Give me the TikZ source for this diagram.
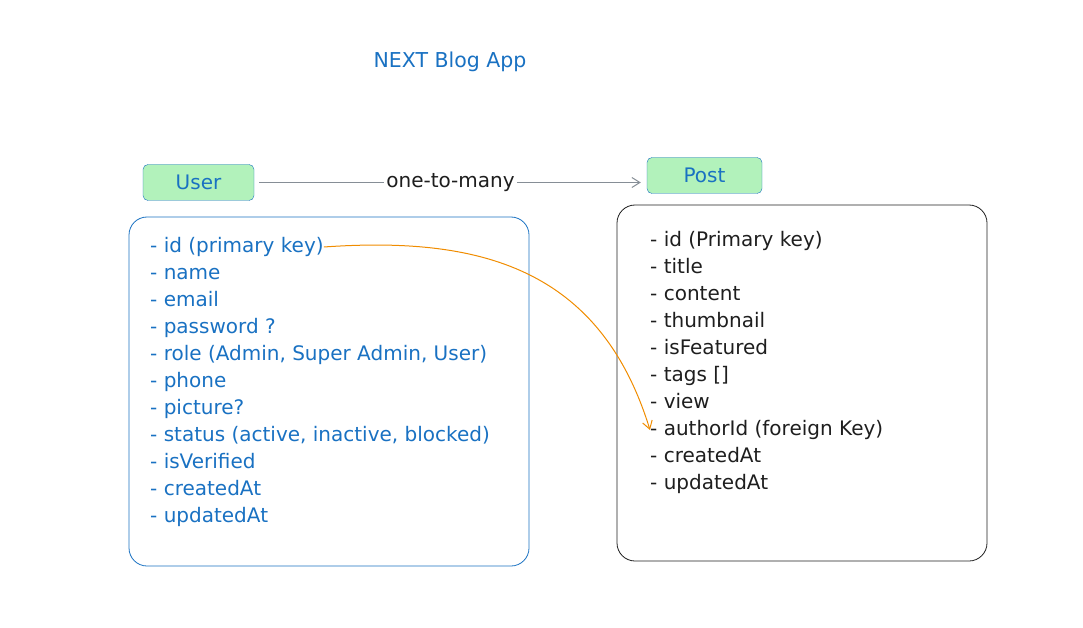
\documentclass[tikz,border=0pt]{standalone}
\usepackage{fontspec}
\setmainfont{DejaVu Sans}
\usetikzlibrary{positioning}
\usetikzlibrary{arrows.meta}
\definecolor{exblue}{HTML}{1971C2}
\definecolor{exgreen}{HTML}{B2F2BB}
\definecolor{exgray}{HTML}{868E96}
\definecolor{exorange}{HTML}{F08C00}
\definecolor{exblack}{HTML}{1E1E1E}
\tikzset{
  header/.style={draw=exblue, fill=exgreen, rounded corners=5pt,
    minimum height=36pt, text=exblue, font=\fontsize{20}{24}\selectfont},
  tablebox/.style={draw, rounded corners=18pt, line width=0.8pt},
  field/.style={anchor=west, inner sep=0pt, text height=15pt, text depth=4pt,
    font=\fontsize{20}{24}\selectfont},
}

\begin{document}
\begin{tikzpicture}[x=1pt, y=-1pt]
\useasboundingbox (0,0) rectangle (1083,628);

% Title
\node[text=exblue, font=\fontsize{20.5}{24}\selectfont] (title) at (450,62) {NEXT Blog App};

% Entities
\node[header, minimum width=111pt] (user) at (198.5,182.5) {User};
\node[header, minimum width=115pt] (post) at (704.5,175.5) {Post};

% User table
\node[tablebox, draw=exblue, minimum width=400pt, minimum height=349pt] (userbox) at (329,391.5) {};
\foreach \t [count=\i] in {{- id (primary key)}, {- name}, {- email}, {- password ?},
    {- role (Admin, Super Admin, User)}, {- phone}, {- picture?},
    {- status (active, inactive, blocked)}, {- isVerified}, {- createdAt}, {- updatedAt}}
  \node[field, text=exblue] (u\i) at (150,{247+27*(\i-1)}) {\t};

% Post table
\node[tablebox, draw=exblack, minimum width=370pt, minimum height=356pt] (postbox) at (802,383) {};
\foreach \t [count=\i] in {{- id (Primary key)}, {- title}, {- content}, {- thumbnail},
    {- isFeatured}, {- tags []}, {- view}, {- authorId (foreign Key)},
    {- createdAt}, {- updatedAt}}
  \node[field, text=exblack] (p\i) at (650,{241+27*(\i-1)}) {\t};

% Relation
\draw[exgray, line width=1pt, shorten <=5pt, shorten >=6pt, -{Straight Barb[length=8pt, width=10pt]}] (user.east) -- (post.west |- user.east)
    node[midway, fill=white, text=exblack, inner sep=2pt, font=\fontsize{20}{24}\selectfont] (rel) {one-to-many};

% Foreign key link
\draw[exorange, line width=1pt, -{Straight Barb[length=8pt, width=10pt]}] (u1.east) .. controls (480,236) and (600,268) .. (p8.west);

\end{tikzpicture}
\end{document}
